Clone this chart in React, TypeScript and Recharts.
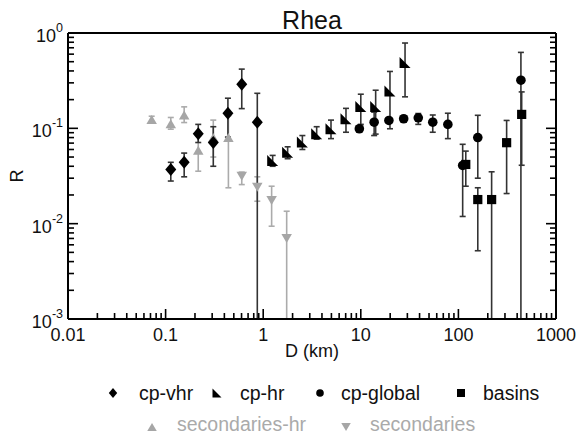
import React from 'react';
import { ScatterChart, Scatter, XAxis, YAxis, ErrorBar, Legend, Label } from 'recharts';

const FONT = '"Liberation Sans", Arial, Helvetica, sans-serif';

// ---- data (D in km, R) ----
const cpVhrD = [0.113, 0.155, 0.216, 0.308, 0.435, 0.603, 0.87];
const cpVhrR = [0.037, 0.044, 0.088, 0.071, 0.144, 0.29, 0.116];
const cpVhrLo = [0.028, 0.031, 0.071, 0.040, 0.081, 0.161, 0];
const cpVhrHi = [0.044, 0.055, 0.110, 0.104, 0.207, 0.418, 0.233];

const cpHrD = [1.25, 1.78, 2.52, 3.53, 4.95, 7.05, 10.0, 14.2, 19.9, 28.4];
const cpHrR = [0.046, 0.056, 0.072, 0.088, 0.099, 0.126, 0.169, 0.169, 0.247, 0.491];
const cpHrLo = [0.040, 0.048, 0.060, 0.077, 0.078, 0.091, 0.11, 0.087, 0.099, 0.214];
const cpHrHi = [0.052, 0.064, 0.084, 0.104, 0.122, 0.162, 0.228, 0.251, 0.395, 0.785];

const cpGlobalD = [9.66, 13.7, 19.4, 27.5, 38.8, 54.6, 78, 110.6, 158, 437];
const cpGlobalR = [0.099, 0.116, 0.121, 0.126, 0.129, 0.116, 0.110, 0.0408, 0.080, 0.32];
const cpGlobalLo = [0.094, 0.084, 0.114, 0.118, 0.110, 0.091, 0.078, 0.0119, 0.030, 0];
const cpGlobalHi = [0.104, 0.148, 0.128, 0.134, 0.143, 0.138, 0.144, 0.068, 0.137, 0.626];

const basinsD = [119, 158, 219, 312, 445];
const basinsR = [0.0418, 0.0179, 0.0179, 0.0707, 0.140];
const basinsLo = [0.0247, 0.0052, 0, 0.0207, 0.041];
const basinsHi = [0.0577, 0.0238, 0.035, 0.121, 0.241];

const secHrD = [0.072, 0.113, 0.155, 0.216, 0.308, 0.44];
const secHrR = [0.124, 0.112, 0.138, 0.059, 0.080, 0.080];
const secHrLo = [0.114, 0.098, 0.115, 0.0355, 0.050, 0.0238];
const secHrHi = [0.134, 0.130, 0.168, 0.0825, 0.122, 0.136];

const secD = [0.603, 0.87, 1.22, 1.74];
const secR = [0.0315, 0.0241, 0.0175, 0.0070];
const secLo = [0.0257, 0.0172, 0.0094, 0];
const secHi = [0.0347, 0.031, 0.0247, 0.0135];

const seriesNames = ['cp-vhr', 'cp-hr', 'cp-global', 'basins', 'secondaries-hr', 'secondaries'];
const chartTitle = 'Rhea';
const xAxisTitle = 'D (km)';
const yAxisTitle = 'R';

// ---- axes ----
const xDecades = [-2, -1, 0, 1, 2, 3];
const xTickLabels = ['0.01', '0.1', '1', '10', '100', '1000'];
const yDecades = [-3, -2, -1, 0];
const yTickExponents = ['-3', '-2', '-1', '0'];
const X_MIN = 0.01, X_MAX = 1000, Y_MIN = 0.001, Y_MAX = 1;

function logTicks(decades: number[]) {
  const out: number[] = [];
  decades.forEach((d, i) => {
    out.push(Math.pow(10, d));
    if (i < decades.length - 1) for (let m = 2; m <= 9; m++) out.push(m * Math.pow(10, d));
  });
  return out;
}
const xTicks = logTicks(xDecades);
const yTicks = logTicks(yDecades);
const isMajor = (v: number) => Math.abs(Math.log10(v) - Math.round(Math.log10(v))) < 1e-6;

function mk(D: number[], R: number[], lo: number[], hi: number[]) {
  return D.map((x, i) => ({ x, y: R[i], e: [R[i] - Math.max(lo[i], Y_MIN), hi[i] - R[i]] }));
}

const cpVhrData = mk(cpVhrD, cpVhrR, cpVhrLo, cpVhrHi);
const cpHrData = mk(cpHrD, cpHrR, cpHrLo, cpHrHi);
const cpGlobalData = mk(cpGlobalD, cpGlobalR, cpGlobalLo, cpGlobalHi);
const basinsData = mk(basinsD, basinsR, basinsLo, basinsHi);
const secHrData = mk(secHrD, secHrR, secHrLo, secHrHi);
const secData = mk(secD, secR, secLo, secHi);

const BLACK = '#000';
const GREY = '#a6a6a6';
const GREY_BAR = '#ababab';
const BLACK_BAR = '#333';

// ---- marker shapes ----
const diamond = (cx: number, cy: number, w: number, h: number, fill: string) => (
  <path d={`M${cx},${cy - h} L${cx + w},${cy} L${cx},${cy + h} L${cx - w},${cy} Z`} fill={fill} />
);
const rtri = (cx: number, cy: number, s: number, fill: string) => (
  <path d={`M${cx - s / 2},${cy - s / 2} L${cx - s / 2},${cy + s / 2} L${cx + s / 2},${cy + s / 2} Z`} fill={fill} />
);
const triUp = (cx: number, cy: number, w: number, h: number, fill: string) => (
  <path d={`M${cx},${cy - h / 2} L${cx + w / 2},${cy + h / 2} L${cx - w / 2},${cy + h / 2} Z`} fill={fill} />
);
const triDown = (cx: number, cy: number, w: number, h: number, fill: string) => (
  <path d={`M${cx - w / 2},${cy - h / 2} L${cx + w / 2},${cy - h / 2} L${cx},${cy + h / 2} Z`} fill={fill} />
);

const DiamondShape = (p: any) => diamond(p.cx, p.cy, 5.5, 6.5, BLACK);
const RTriShape = (p: any) => rtri(p.cx, p.cy, 11, BLACK);
const CircleShape = (p: any) => <circle cx={p.cx} cy={p.cy} r={4.8} fill={BLACK} />;
const SquareShape = (p: any) => <rect x={p.cx - 4.6} y={p.cy - 4.6} width={9.2} height={9.2} fill={BLACK} />;
const TriUpShape = (p: any) => triUp(p.cx, p.cy, 10.5, 9, GREY);
const TriDownShape = (p: any) => triDown(p.cx, p.cy, 10.5, 9, GREY);

// ---- ticks ----
const XTickBottom = (props: any) => {
  const { x, y, payload } = props;
  const v = payload.value;
  const major = isMajor(v);
  const label = major ? xTickLabels[xDecades.indexOf(Math.round(Math.log10(v)))] : null;
  return (
    <g>
      <line x1={x} x2={x} y1={y} y2={y - (major ? 10 : 6)} stroke="#000" strokeWidth={1.6} />
      {label && (
        <text x={x} y={y + 22} textAnchor="middle" fontSize={18} fill="#111" fontFamily={FONT}>{label}</text>
      )}
    </g>
  );
};
const XTickTop = (props: any) => {
  const { x, y, payload } = props;
  const major = isMajor(payload.value);
  return <line x1={x} x2={x} y1={y} y2={y + (major ? 10 : 6)} stroke="#000" strokeWidth={1.6} />;
};
const YTickLeft = (props: any) => {
  const { x, y, payload } = props;
  const v = payload.value;
  const major = isMajor(v);
  const exp = major ? yTickExponents[yDecades.indexOf(Math.round(Math.log10(v)))] : null;
  return (
    <g>
      <line x1={x} x2={x + (major ? 10 : 6)} y1={y} y2={y} stroke="#000" strokeWidth={1.6} />
      {exp !== null && (
        <text x={x - 5} y={y + 9} textAnchor="end" fontSize={18} fill="#111" fontFamily={FONT}>
          10<tspan dy={-10} fontSize={12.5}>{exp}</tspan>
        </text>
      )}
    </g>
  );
};
const YTickRight = (props: any) => {
  const { x, y, payload } = props;
  const major = isMajor(payload.value);
  return <line x1={x} x2={x - (major ? 10 : 6)} y1={y} y2={y} stroke="#000" strokeWidth={1.6} />;
};

// ---- legend ----
const legendRow1 = [
  { key: 0, mx: 113, tx: 139 },
  { key: 1, mx: 217, tx: 240 },
  { key: 2, mx: 320, tx: 341 },
  { key: 3, mx: 461, tx: 483 },
];
const legendRow2 = [
  { key: 4, mx: 152, tx: 177 },
  { key: 5, mx: 346, tx: 370 },
];
const legendMarker = (key: number, cx: number, cy: number) => {
  switch (key) {
    case 0: return diamond(cx, cy, 4.2, 5, BLACK);
    case 1: return rtri(cx, cy, 9, BLACK);
    case 2: return <circle cx={cx} cy={cy} r={3.8} fill={BLACK} />;
    case 3: return <rect x={cx - 4} y={cy - 4} width={8} height={8} fill={BLACK} />;
    case 4: return triUp(cx, cy, 9.5, 8, GREY);
    default: return triDown(cx, cy, 9.5, 8, GREY);
  }
};
const renderLegend = () => (
  <svg width={580} height={66} style={{ display: 'block' }}>
    {legendRow1.map((it) => (
      <g key={it.key}>
        {legendMarker(it.key, it.mx, 21)}
        <text x={it.tx} y={28} fontSize={19.5} fill="#111" fontFamily={FONT}>{seriesNames[it.key]}</text>
      </g>
    ))}
    {legendRow2.map((it) => (
      <g key={it.key}>
        {legendMarker(it.key, it.mx, 55)}
        <text x={it.tx} y={59} fontSize={19.5} fill="#aaa" fontFamily={FONT}>{seriesNames[it.key]}</text>
      </g>
    ))}
  </svg>
);

export default function App() {
  return (
    <div style={{ position: 'absolute', left: 0, top: 0, width: 580, height: 438, background: '#fff' }}>
      <ScatterChart width={580} height={438} margin={{ top: 32, right: 23, bottom: 69, left: 0 }}>
        <XAxis
          xAxisId="b" dataKey="x" type="number" scale="log" domain={[X_MIN, X_MAX]} allowDataOverflow
          ticks={xTicks} interval={0} tick={<XTickBottom />} tickLine={false} tickSize={0} tickMargin={0}
          height={50} axisLine={{ stroke: '#000', strokeWidth: 2 }} orientation="bottom"
        >
          <Label
            content={() => (
              <text x={312} y={357} textAnchor="middle" fontSize={18} fill="#111" fontFamily={FONT}>{xAxisTitle}</text>
            )}
          />
        </XAxis>
        <XAxis
          xAxisId="t" type="number" scale="log" domain={[X_MIN, X_MAX]} allowDataOverflow
          ticks={xTicks} interval={0} tick={<XTickTop />} tickLine={false} tickSize={0} tickMargin={0}
          height={1} axisLine={{ stroke: '#000', strokeWidth: 2 }} orientation="top"
        >
          <Label
            content={() => (
              <text x={312} y={29} textAnchor="middle" fontSize={25} fill="#111" fontFamily={FONT}>{chartTitle}</text>
            )}
          />
        </XAxis>
        <YAxis
          yAxisId="l" dataKey="y" type="number" scale="log" domain={[Y_MIN, Y_MAX]} allowDataOverflow
          ticks={yTicks} interval={0} tick={<YTickLeft />} tickLine={false} tickSize={0} tickMargin={0}
          width={68} axisLine={{ stroke: '#000', strokeWidth: 2 }} orientation="left"
        >
          <Label
            content={() => (
              <text x={17} y={176} transform="rotate(-90, 17, 176)" textAnchor="middle" dominantBaseline="central"
                fontSize={18} fill="#111" fontFamily={FONT}>{yAxisTitle}</text>
            )}
          />
        </YAxis>
        <YAxis
          yAxisId="r" type="number" scale="log" domain={[Y_MIN, Y_MAX]} allowDataOverflow
          ticks={yTicks} interval={0} tick={<YTickRight />} tickLine={false} tickSize={0} tickMargin={0}
          width={1} axisLine={{ stroke: '#000', strokeWidth: 2 }} orientation="right"
        />
        <Scatter name={seriesNames[4]} data={secHrData} xAxisId="b" yAxisId="l" fill={GREY} shape={TriUpShape} isAnimationActive={false}>
          <ErrorBar dataKey="e" direction="y" width={3} stroke={GREY_BAR} strokeWidth={1.6} isAnimationActive={false} />
        </Scatter>
        <Scatter name={seriesNames[5]} data={secData} xAxisId="b" yAxisId="l" fill={GREY} shape={TriDownShape} isAnimationActive={false}>
          <ErrorBar dataKey="e" direction="y" width={3} stroke={GREY_BAR} strokeWidth={1.6} isAnimationActive={false} />
        </Scatter>
        <Scatter name={seriesNames[0]} data={cpVhrData} xAxisId="b" yAxisId="l" fill={BLACK} shape={DiamondShape} isAnimationActive={false}>
          <ErrorBar dataKey="e" direction="y" width={3} stroke={BLACK_BAR} strokeWidth={1.6} isAnimationActive={false} />
        </Scatter>
        <Scatter name={seriesNames[1]} data={cpHrData} xAxisId="b" yAxisId="l" fill={BLACK} shape={RTriShape} isAnimationActive={false}>
          <ErrorBar dataKey="e" direction="y" width={3} stroke={BLACK_BAR} strokeWidth={1.6} isAnimationActive={false} />
        </Scatter>
        <Scatter name={seriesNames[2]} data={cpGlobalData} xAxisId="b" yAxisId="l" fill={BLACK} shape={CircleShape} isAnimationActive={false}>
          <ErrorBar dataKey="e" direction="y" width={3} stroke={BLACK_BAR} strokeWidth={1.6} isAnimationActive={false} />
        </Scatter>
        <Scatter name={seriesNames[3]} data={basinsData} xAxisId="b" yAxisId="l" fill={BLACK} shape={SquareShape} isAnimationActive={false}>
          <ErrorBar dataKey="e" direction="y" width={3} stroke={BLACK_BAR} strokeWidth={1.6} isAnimationActive={false} />
        </Scatter>
        <Legend
          content={renderLegend}
          layout="horizontal" verticalAlign="middle" align="center"
          wrapperStyle={{ position: 'absolute', left: 0, top: 372, width: 580, height: 66 }}
        />
      </ScatterChart>
    </div>
  );
}
